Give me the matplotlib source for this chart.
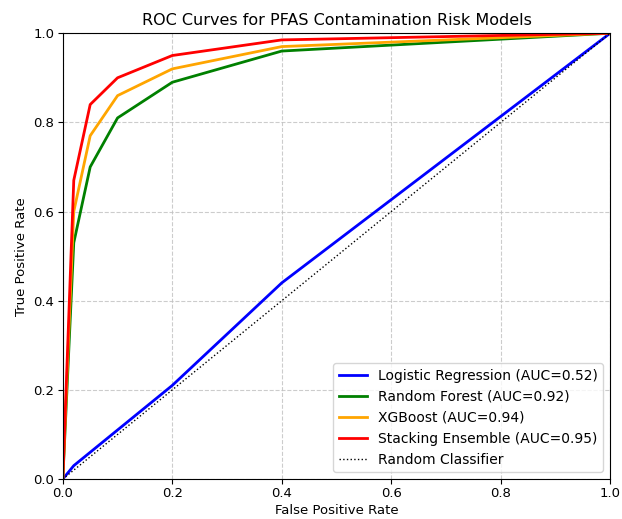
import matplotlib
matplotlib.use("Agg")
import matplotlib.pyplot as plt

# ROC points
fpr = [0.0, 0.02, 0.05, 0.1, 0.2, 0.4, 1.0]
tpr_rf = [0.0, 0.53, 0.70, 0.81, 0.89, 0.96, 1.0]
tpr_xgb = [0.0, 0.60, 0.77, 0.86, 0.92, 0.97, 1.0]
tpr_stack = [0.0, 0.67, 0.84, 0.90, 0.95, 0.985, 1.0]

fpr_lr = [0.0, 0.02, 0.2, 0.4, 1.0]
tpr_lr = [0.0, 0.03, 0.21, 0.44, 1.0]

models = ["Logistic Regression", "Random Forest", "XGBoost", "Stacking Ensemble"]
aucs = [0.52, 0.92, 0.94, 0.95]
colors = ["blue", "green", "orange", "red"]

fig = plt.figure(figsize=(6.22, 5.19), dpi=100)
ax = fig.add_axes([0.101, 0.077, 0.880, 0.859])

curves = [(fpr_lr, tpr_lr), (fpr, tpr_rf), (fpr, tpr_xgb), (fpr, tpr_stack)]
for (x, y), name, auc, c in zip(curves, models, aucs, colors):
    ax.plot(x, y, color=c, lw=2, label=f"{name} (AUC={auc:.2f})")

ax.plot([0, 1], [0, 1], color="black", ls=":", lw=1, label="Random Classifier")

ax.set_xlim(0, 1)
ax.set_ylim(0, 1)
ax.tick_params(labelsize=9.5, pad=2.5)
ax.set_xlabel("False Positive Rate", fontsize=9.5, labelpad=2.5)
ax.set_ylabel("True Positive Rate", fontsize=9.5, labelpad=4)
ax.set_title("ROC Curves for PFAS Contamination Risk Models", fontsize=11.5)
ax.grid(True, ls="--", color="#c0c0c0", alpha=0.8)
ax.legend(loc="lower right", fontsize=10)

fig.savefig("out.png", dpi=100)
